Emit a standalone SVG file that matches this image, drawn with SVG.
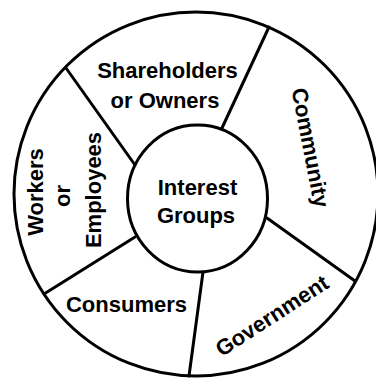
<svg xmlns="http://www.w3.org/2000/svg" width="376" height="380" viewBox="0 0 376 380">
<style>
.s{fill:none;stroke:#000;stroke-width:3;stroke-linecap:round}
.t{font-family:"Liberation Sans",Arial,sans-serif;font-weight:bold;font-size:22px;fill:#000;text-anchor:middle}
</style>
<rect width="376" height="380" fill="#fff"/>
<g id="outer-ring">
<ellipse class="s" cx="196" cy="194" rx="182" ry="182"/>
</g>
<g id="connectors">
<line class="s" x1="135" y1="165" x2="66" y2="68"/>
<line class="s" x1="222" y1="128" x2="269" y2="27"/>
<line class="s" x1="267" y1="218" x2="355" y2="281"/>
<line class="s" x1="203" y1="272" x2="189" y2="376"/>
<line class="s" x1="135" y1="237" x2="44" y2="294"/>
</g>
<g id="interest-groups">
<ellipse class="s" cx="197.5" cy="198.5" rx="70" ry="73.5"/>
<text class="t" x="197.5" y="195">Interest</text>
<text class="t" x="196" y="223">Groups</text>
</g>
<g id="shareholders">
<text class="t" x="167.5" y="78">Shareholders</text>
<text class="t" x="165" y="108">or Owners</text>
</g>
<g id="community">
<text class="t" transform="translate(303,149) rotate(79)">Community</text>
</g>
<g id="government">
<text class="t" transform="translate(276,322) rotate(-33)">Government</text>
</g>
<g id="consumers">
<text class="t" x="126.5" y="312">Consumers</text>
</g>
<g id="workers">
<text class="t" transform="translate(43,192) rotate(-90)">Workers</text>
<text class="t" transform="translate(70,196) rotate(-90)">or</text>
<text class="t" transform="translate(101,190) rotate(-90)">Employees</text>
</g>
</svg>
